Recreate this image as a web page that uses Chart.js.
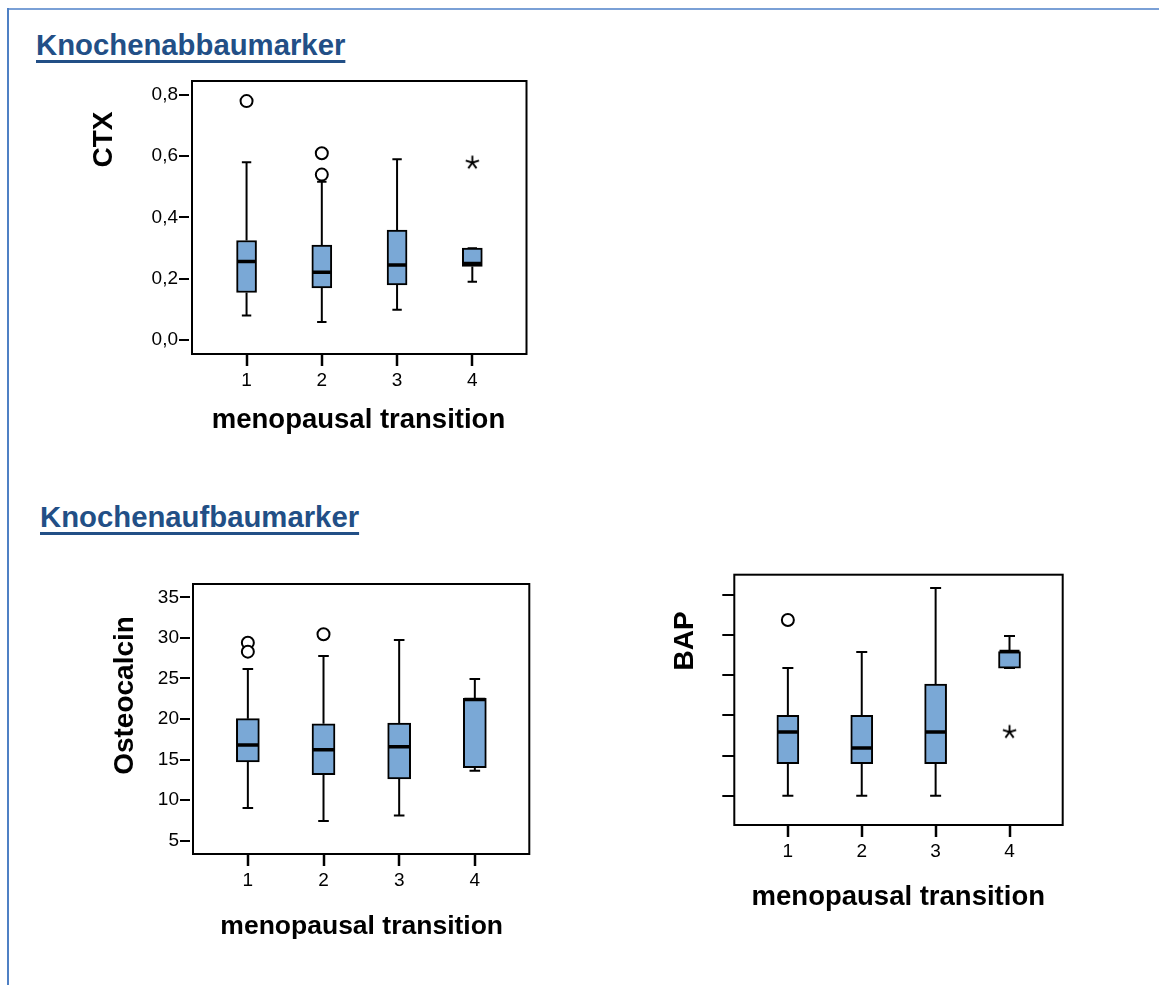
<!DOCTYPE html>
<html>
<head>
<meta charset="utf-8">
<script src="https://cdn.jsdelivr.net/npm/chart.js@4.4.1/dist/chart.umd.min.js"></script>
<style>
  body { margin: 0; background: #fff; }
  #page { position: relative; width: 1159px; height: 985px; overflow: hidden; background: #fff; }
  .frameTop { position: absolute; left: 7px; top: 8px; right: 0; height: 2px; background: #7aa0d6; }
  .frameLeft { position: absolute; left: 7px; top: 8px; width: 2px; bottom: 0; background: #4f80c4; }
  .heading {
    position: absolute; margin: 0;
    font: bold 29.3px "Liberation Sans", Arial, sans-serif; line-height: 29px;
    color: #224f86;
    text-decoration: underline; text-decoration-thickness: 2.5px; text-underline-offset: 5px;
  }
  canvas { position: absolute; }
</style>
</head>
<body>
<div id="page">
  <div class="frameTop"></div>
  <div class="frameLeft"></div>
  <div class="heading" style="left:36px; top:30px;">Knochenabbaumarker</div>
  <div class="heading" style="left:40px; top:502px;">Knochenaufbaumarker</div>
  <canvas id="ctxChart" width="500" height="380" style="left:60px; top:65px;"></canvas>
  <canvas id="ostChart" width="500" height="380" style="left:60px; top:565px;"></canvas>
  <canvas id="bapChart" width="480" height="380" style="left:620px; top:555px;"></canvas>
</div>
<script>
// menopausal transition groups
const categories = [1, 2, 3, 4];
const categoryLabels = ["1", "2", "3", "4"];

// CTX
const ctxLow = [0.08, 0.059, 0.099, 0.19];
const ctxQ1 = [0.155, 0.17, 0.18, 0.24];
const ctxMedian = [0.256, 0.221, 0.245, 0.25];
const ctxQ3 = [0.325, 0.31, 0.359, 0.30];
const ctxHigh = [0.58, 0.517, 0.59, 0.30];
const ctxOutliers = [[1, 0.78], [2, 0.61], [2, 0.54]];
const ctxExtremes = [[4, 0.579]];
const ctxTicks = [0, 0.2, 0.4, 0.6, 0.8];
const ctxTickLabels = ["0,0", "0,2", "0,4", "0,6", "0,8"];

// Osteocalcin
const ostLow = [9.02, 7.42, 8.12, 13.63];
const ostQ1 = [14.7, 13.13, 12.6, 14.0];
const ostMedian = [16.8, 16.22, 16.59, 22.4];
const ostQ3 = [20.04, 19.42, 19.5, 22.55];
const ostHigh = [26.16, 27.77, 29.74, 24.93];
const ostOutliers = [[1, 29.4], [1, 28.3], [2, 30.44]];
const ostExtremes = [];
const ostTicks = [5, 10, 15, 20, 25, 30, 35];
const ostTickLabels = ["5", "10", "15", "20", "25", "30", "35"];

// BAP (axis has no tick labels in the original)
const bapLow = [10, 10, 10, 41.8];
const bapQ1 = [18, 18, 18, 41.8];
const bapMedian = [25.86, 21.9, 25.86, 45.9];
const bapQ3 = [30, 30, 37.82, 45.9];
const bapHigh = [41.8, 45.8, 61.74, 49.8];
const bapOutliers = [[1, 53.77]];
const bapExtremes = [[4, 25.86]];
const bapTicks = [10, 20, 30, 40, 50, 60];
const bapTickLabels = ["", "", "", "", "", ""];

const FONT = '"Liberation Sans", Arial, Helvetica, sans-serif';
const BOX_FILL = "#7aa8d6";

// asterisk marker for extreme values
function makeAsterisk() {
  const c = document.createElement("canvas");
  c.width = 17;
  c.height = 17;
  const g = c.getContext("2d");
  g.strokeStyle = "#000";
  g.lineWidth = 1.9;
  g.beginPath();
  for (let k = 0; k < 5; k++) {
    const a = (-90 + k * 72) * Math.PI / 180;
    g.moveTo(8.5, 8.5);
    g.lineTo(8.5 + Math.cos(a) * 7, 8.5 + Math.sin(a) * 7);
  }
  g.stroke();
  return c;
}
const asterisk = makeAsterisk();

const framePlugin = {
  id: "frame",
  afterDatasetsDraw(chart) {
    const { ctx, chartArea: a } = chart;
    ctx.save();
    ctx.strokeStyle = "#000";
    ctx.lineWidth = 2;
    ctx.strokeRect(a.left, a.top, a.right - a.left, a.bottom - a.top);
    ctx.restore();
  },
};

const titlePlugin = {
  id: "axisTitles",
  afterDraw(chart, args, opts) {
    const ctx = chart.ctx;
    ctx.save();
    ctx.fillStyle = "#000";
    ctx.textAlign = "center";
    ctx.textBaseline = "alphabetic";
    ctx.font = `bold ${opts.xSize}px ${FONT}`;
    ctx.fillText(opts.xText, opts.xPos[0], opts.xPos[1]);
    ctx.font = `bold ${opts.ySize}px ${FONT}`;
    ctx.translate(opts.yPos[0], opts.yPos[1]);
    ctx.rotate(-Math.PI / 2);
    ctx.fillText(opts.yText, 0, 0);
    ctx.restore();
  },
};

function makeBoxplot(id, s) {
  const whiskers = [];
  const caps = [];
  categories.forEach((c, i) => {
    whiskers.push(
      { x: c, y: s.low[i] }, { x: c, y: s.q1[i] }, { x: c, y: null },
      { x: c, y: s.q3[i] }, { x: c, y: s.high[i] }, { x: c, y: null }
    );
    caps.push({ x: c, y: s.low[i] }, { x: c, y: s.high[i] });
  });

  const el = document.getElementById(id);
  const left = parseFloat(el.style.left);
  const top = parseFloat(el.style.top);

  new Chart(el, {
    type: "bar",
    data: {
      datasets: [
        {
          type: "line",
          data: whiskers,
          borderColor: "#000",
          borderWidth: 2,
          pointRadius: 0,
          spanGaps: false,
          order: 4,
        },
        {
          type: "scatter",
          data: caps,
          pointStyle: "line",
          pointRadius: s.capHalf,
          borderColor: "#000",
          borderWidth: 2,
          order: 3,
        },
        {
          type: "bar",
          data: categories.map((c, i) => ({ x: c, y: [s.q1[i], s.q3[i]] })),
          backgroundColor: BOX_FILL,
          borderColor: "#000",
          borderWidth: 2,
          borderSkipped: false,
          barThickness: s.boxWidth,
          order: 2,
        },
        {
          type: "scatter",
          data: categories.map((c, i) => ({ x: c, y: s.median[i] })),
          pointStyle: "line",
          pointRadius: s.boxWidth / 2 - 1,
          borderColor: "#000",
          borderWidth: 3.5,
          order: 1,
        },
        {
          type: "scatter",
          data: s.outliers.map(([x, y]) => ({ x, y })),
          pointStyle: "circle",
          pointRadius: 6,
          backgroundColor: "#fff",
          borderColor: "#000",
          borderWidth: 2,
          order: 0,
        },
        {
          type: "scatter",
          data: s.extremes.map(([x, y]) => ({ x, y })),
          pointStyle: asterisk,
          order: 0,
        },
      ],
    },
    options: {
      responsive: false,
      animation: false,
      events: [],
      layout: {
        padding: { left: 0, top: s.area.top - top, right: left + el.width - s.area.right, bottom: 0 },
      },
      plugins: {
        legend: { display: false },
        tooltip: { enabled: false },
        axisTitles: {
          xText: "menopausal transition",
          xSize: s.xTitleSize,
          xPos: [s.xTitle[0] - left, s.xTitle[1] - top],
          yText: s.yTitle,
          ySize: 28,
          yPos: [s.yTitlePos[0] - left, s.yTitlePos[1] - top],
        },
      },
      scales: {
        x: {
          type: "linear",
          offset: false,
          min: 0.275,
          max: 4.72,
          afterBuildTicks: (sc) => { sc.ticks = categories.map((v) => ({ value: v })); },
          afterFit: (sc) => { sc.height = top + el.height - s.area.bottom; },
          ticks: {
            callback: (v, i) => categoryLabels[i],
            font: { family: FONT, size: 19 },
            color: "#000",
            padding: 3,
            autoSkip: false,
            maxRotation: 0,
          },
          grid: {
            offset: false,
            drawOnChartArea: false,
            tickLength: 12,
            tickWidth: 2.5,
            tickColor: "#000",
            lineWidth: 2,
          },
          border: { display: false },
        },
        y: {
          type: "linear",
          min: s.yMin,
          max: s.yMax,
          afterBuildTicks: (sc) => { sc.ticks = s.ticks.map((v) => ({ value: v })); },
          afterFit: (sc) => { sc.width = s.area.left - left; },
          ticks: {
            callback: (v, i) => s.tickLabels[i],
            font: { family: FONT, size: 19 },
            color: "#000",
            padding: 1,
          },
          grid: {
            drawOnChartArea: false,
            tickLength: s.tickLength,
            tickWidth: 2,
            tickColor: "#000",
            lineWidth: 2,
            tickBorderDash: s.tickDash,
          },
          border: { display: false },
        },
      },
    },
    plugins: [framePlugin, titlePlugin],
  });
}

makeBoxplot("ctxChart", {
  low: ctxLow, q1: ctxQ1, median: ctxMedian, q3: ctxQ3, high: ctxHigh,
  outliers: ctxOutliers, extremes: ctxExtremes,
  ticks: ctxTicks, tickLabels: ctxTickLabels,
  yMin: -0.0457, yMax: 0.8457,
  area: { left: 192, top: 81, right: 526.5, bottom: 354 },
  boxWidth: 20, capHalf: 4.7,
  tickLength: 13, tickDash: [10, 20],
  yTitle: "CTX", yTitlePos: [112, 139.5],
  xTitle: [358.5, 428], xTitleSize: 27.5,
});

makeBoxplot("ostChart", {
  low: ostLow, q1: ostQ1, median: ostMedian, q3: ostQ3, high: ostHigh,
  outliers: ostOutliers, extremes: ostExtremes,
  ticks: ostTicks, tickLabels: ostTickLabels,
  yMin: 3.36, yMax: 36.64,
  area: { left: 193, top: 584, right: 529.3, bottom: 854 },
  boxWidth: 23, capHalf: 5.3,
  tickLength: 13, tickDash: [10, 20],
  yTitle: "Osteocalcin", yTitlePos: [132.7, 695.5],
  xTitle: [361.7, 934], xTitleSize: 26.5,
});

makeBoxplot("bapChart", {
  low: bapLow, q1: bapQ1, median: bapMedian, q3: bapQ3, high: bapHigh,
  outliers: bapOutliers, extremes: bapExtremes,
  ticks: bapTicks, tickLabels: bapTickLabels,
  yMin: 2.7, yMax: 65.06,
  area: { left: 734.3, top: 574.7, right: 1062.7, bottom: 825 },
  boxWidth: 22, capHalf: 5.5,
  tickLength: 12, tickDash: [],
  yTitle: "BAP", yTitlePos: [693, 641],
  xTitle: [898.3, 905], xTitleSize: 27.5,
});
</script>
</body>
</html>
